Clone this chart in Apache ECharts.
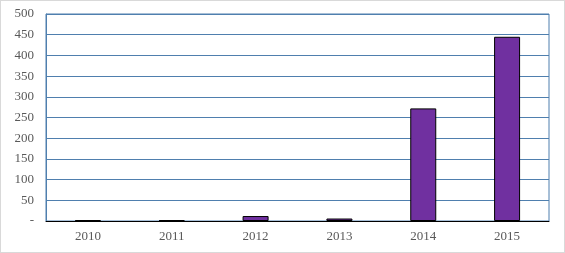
<!DOCTYPE html>
<html><head><meta charset="utf-8">
<script src="https://cdn.jsdelivr.net/npm/echarts@6/dist/echarts.min.js"></script>
<style>
html,body{margin:0;padding:0;background:#fff;}
#c{width:563px;height:251px;border:1px solid #d9d9d9;}
</style></head>
<body><div id="c"></div>
<script>
const categories = ['2010','2011','2012','2013','2014','2015'];
const values = [2, 2, 12, 6, 272, 445];
const yTicks = [0,50,100,150,200,250,300,350,400,450,500];

const chart = echarts.init(document.getElementById('c'), null, {renderer:'canvas'});
chart.setOption({
  animation:false,
  grid:{left:45,right:15,top:13,bottom:31,show:true,borderColor:'#4f7fae',borderWidth:1},
  xAxis:{type:'category',data:categories,
    axisLine:{lineStyle:{color:'#000',width:1}},axisTick:{show:false},
    axisLabel:{color:'#595959',fontFamily:'Liberation Serif',fontSize:13,margin:9}},
  yAxis:{type:'value',min:0,max:500,interval:50,
    axisLine:{show:true,lineStyle:{color:'#4f7fae'}},axisTick:{show:false},
    splitLine:{lineStyle:{color:'#4f7fae',width:1}},
    axisLabel:{color:'#595959',fontFamily:'Liberation Serif',fontSize:13,margin:12,
      formatter:v=>v===0?'-':String(v)}},
  series:[{type:'bar',data:values,barWidth:26,
    itemStyle:{color:'#7030a0',borderColor:'#000',borderWidth:1}}]
});
</script></body></html>
